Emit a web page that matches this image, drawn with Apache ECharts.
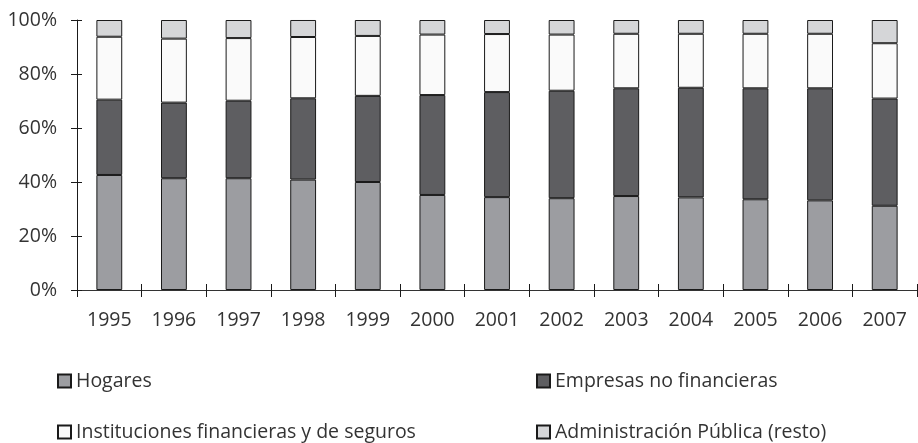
<!DOCTYPE html>
<html>
<head>
<meta charset="utf-8">
<script src="https://cdn.jsdelivr.net/npm/echarts@6/dist/echarts.min.js"></script>
<style>
  html, body { margin: 0; padding: 0; background: #fff; }
  #chart { width: 918px; height: 443px; }
</style>
</head>
<body>
<div id="chart"></div>
<script>
// Años
var years = ['1995', '1996', '1997', '1998', '1999', '2000', '2001',
             '2002', '2003', '2004', '2005', '2006', '2007'];

// Participación (%) por sector
var hogares       = [42.6, 41.4, 41.4, 40.9, 40.0, 35.2, 34.4, 34.0, 34.8, 34.3, 33.6, 33.2, 31.2];
var empresas      = [27.9, 28.0, 28.7, 30.1, 31.9, 37.0, 38.9, 39.8, 39.9, 40.6, 41.1, 41.5, 39.7];
var instituciones = [23.3, 23.7, 23.2, 22.7, 22.2, 22.4, 21.5, 20.8, 20.2, 20.0, 20.2, 20.2, 20.5];
var administracion = [6.2, 6.9, 6.7, 6.3, 5.9, 5.4, 5.2, 5.4, 5.1, 5.1, 5.1, 5.1, 8.6];

var names = ['Hogares', 'Empresas no financieras',
             'Instituciones financieras y de seguros', 'Administración Pública (resto)'];
var colors = ['#9c9da1', '#5e5e61', '#fafafa', '#d5d6d8'];

var FONT = '"Open Sans", "DejaVu Sans", sans-serif';
var TEXT = '#333';

function legendAt(name, left, top) {
    return {
        data: [name], left: left, top: top, padding: 0,
        icon: 'rect', itemWidth: 13, itemHeight: 13,
        textStyle: { fontFamily: FONT, fontSize: 19.5, color: TEXT, lineHeight: 20 }
    };
}

function mkSeries(i, values) {
    return {
        name: names[i], type: 'bar', stack: 'total',
        barWidth: '40%',
        xAxisIndex: 0, yAxisIndex: 0,
        itemStyle: { color: colors[i], borderColor: '#1a1a1a', borderWidth: 1 },
        emphasis: { disabled: true },
        data: values
    };
}

var chart = echarts.init(document.getElementById('chart'), null, { renderer: 'canvas' });

chart.setOption({
    animation: false,
    grid: { left: 77, right: 1, top: 20, bottom: 153, containLabel: false },
    legend: [
        legendAt(names[0], 57, 371),
        legendAt(names[1], 536, 371),
        legendAt(names[2], 57, 422),
        legendAt(names[3], 536, 422)
    ],
    xAxis: [{
        type: 'category', data: years,
        axisLine: { lineStyle: { color: '#333', width: 1 } },
        axisTick: { show: true, length: 7, alignWithLabel: false, lineStyle: { color: '#1a1a1a' } },
        axisLabel: { fontFamily: FONT, fontSize: 19.5, color: TEXT, margin: 20 }
    }, {
        // ticks inside, so they cross the axis line
        type: 'category', data: years, position: 'bottom',
        axisLine: { show: false },
        axisTick: { show: true, inside: true, length: 6, lineStyle: { color: '#1a1a1a' } },
        axisLabel: { show: false }
    }],
    yAxis: [{
        type: 'value', min: 0, max: 100, interval: 20,
        axisLine: { show: true, lineStyle: { color: '#1a1a1a', width: 1 } },
        axisTick: { show: true, length: 6, lineStyle: { color: '#1a1a1a' } },
        splitLine: { show: false },
        axisLabel: {
            fontFamily: FONT, fontSize: 19.5, color: TEXT, margin: 20,
            formatter: '{value}%'
        }
    }, {
        type: 'value', min: 0, max: 100, interval: 20, position: 'left',
        axisLine: { show: false },
        axisTick: { show: true, inside: true, length: 5, lineStyle: { color: '#1a1a1a' } },
        splitLine: { show: false },
        axisLabel: { show: false }
    }],
    series: [
        mkSeries(0, hogares),
        mkSeries(1, empresas),
        mkSeries(2, instituciones),
        mkSeries(3, administracion)
    ]
});
</script>
</body>
</html>
